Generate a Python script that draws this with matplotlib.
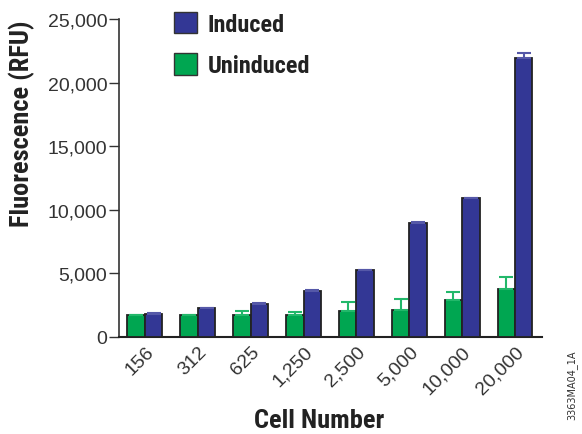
import matplotlib
matplotlib.use("Agg")
import matplotlib.pyplot as plt
from matplotlib.patches import Patch
from matplotlib.transforms import ScaledTranslation
import numpy as np

categories = ["156", "312", "625", "1,250", "2,500", "5,000", "10,000", "20,000"]
uninduced = [1700, 1700, 1750, 1730, 2040, 2120, 2880, 3800]
uninduced_err = [60, 60, 320, 230, 690, 890, 680, 940]
induced = [1820, 2250, 2590, 3640, 5250, 8940, 10900, 21950]
induced_err = [40, 60, 50, 40, 50, 100, 40, 400]
yticks = [0, 5000, 10000, 15000, 20000, 25000]
ytick_labels = ["0", "5,000", "10,000", "15,000", "20,000", "25,000"]

blue = "#333795"
green = "#00A651"
blue_err = "#5558a8"
green_err = "#22b86a"
cond = ["Roboto Condensed", "Barlow Condensed", "DejaVu Sans"]

fig = plt.figure(figsize=(5.82, 4.35), dpi=100)
ax = fig.add_axes([119 / 582, 1 - 338 / 435, (542 - 119) / 582, (338 - 20) / 435])

x = np.arange(len(categories))
w = 0.33
ax.bar(x - w / 2, uninduced, w, color=green, edgecolor="#222222", linewidth=1.3,
       yerr=[np.zeros(len(x)), uninduced_err], ecolor=green_err,
       error_kw=dict(capsize=5, elinewidth=1.5, capthick=1.5), zorder=3)
ax.bar(x + w / 2, induced, w, color=blue, edgecolor="#222222", linewidth=1.3,
       yerr=[np.zeros(len(x)), induced_err], ecolor=blue_err,
       error_kw=dict(capsize=5, elinewidth=1.5, capthick=1.5), zorder=3)

ax.set_xlim(-0.49, 7.51)
ax.set_ylim(0, 25000)
ax.set_yticks(yticks)
ax.set_yticklabels(ytick_labels, fontsize=14, color="#333333", family="Liberation Sans")
ax.set_xticks(x)
ax.set_xticklabels(categories, rotation=45, ha="right", rotation_mode="anchor",
                   fontsize=14, color="#333333", family="Liberation Sans")
off = ScaledTranslation(4 / 100, 0, fig.dpi_scale_trans)
for lab in ax.get_xticklabels():
    lab.set_transform(lab.get_transform() + off)
ax.tick_params(axis="x", length=0, pad=4)
ax.tick_params(axis="y", length=7, width=1, color="#333333", pad=1.5)
for s in ["top", "right"]:
    ax.spines[s].set_visible(False)
ax.spines["left"].set_color("#333333")
ax.spines["bottom"].set_color("#222222")
ax.spines["left"].set_linewidth(1.2)
ax.spines["bottom"].set_linewidth(1.5)

fig.text(22 / 582, 1 - 124 / 435, "Fluorescence (RFU)", rotation=90, ha="center", va="center",
         fontsize=19, fontweight="bold", family=cond, color="#222222")
fig.text(319 / 582, 1 - 421 / 435, "Cell Number", ha="center", va="center",
         fontsize=19, fontweight="bold", family=cond, color="#222222")

handles = [Patch(facecolor=blue, edgecolor="#333333", label="Induced"),
           Patch(facecolor=green, edgecolor="#333333", label="Uninduced")]
ax.legend(handles=handles, loc="upper left", bbox_to_anchor=(0.106, 1.054), frameon=False,
          prop=dict(family=cond, weight="bold", size=17.5), handlelength=0.95,
          handleheight=1.0, handletextpad=0.45, labelspacing=0.7, labelcolor="#222222",
          borderaxespad=0)

fig.text(572 / 582, 1 - 385 / 435, "3363MA04_1A", rotation=90, fontsize=7,
         family="Liberation Sans Narrow", ha="center", va="center", color="#333333")

fig.savefig("out.png", dpi=100)
